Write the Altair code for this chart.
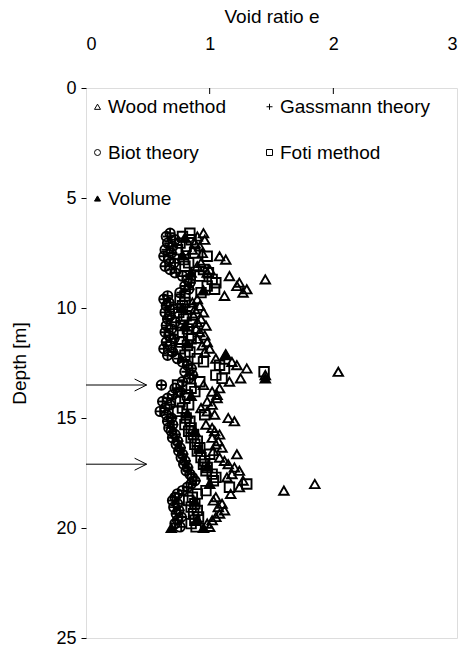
import altair as alt
import pandas as pd

depth = [6.6, 6.75, 6.9, 7.05, 7.2, 7.35, 7.5, 7.65, 7.8, 7.95,
         8.1, 8.25, 8.4, 8.55, 8.7, 8.85, 9.0, 9.15, 9.3, 9.45,
         9.6, 9.75, 9.9, 10.05, 10.2, 10.35, 10.5, 10.65, 10.8, 10.95,
         11.1, 11.25, 11.4, 11.55, 11.7, 11.85, 12.0, 12.15, 12.3, 12.45,
         12.6, 12.75, 12.9, 13.05, 13.2, 13.35, 13.5, 13.65, 13.8, 13.95,
         14.1, 14.25, 14.4, 14.55, 14.7, 14.85, 15.0, 15.15, 15.3, 15.45,
         15.6, 15.75, 15.9, 16.05, 16.2, 16.35, 16.5, 16.65, 16.8, 16.95,
         17.1, 17.25, 17.4, 17.55, 17.7, 17.85, 18.0, 18.15, 18.3, 18.45,
         18.6, 18.75, 18.9, 19.05, 19.2, 19.35, 19.5, 19.65, 19.8, 19.95]

biot = [0.68, 0.65, 0.72, 0.66, 0.70, 0.64, 0.69, 0.63, 0.67, 0.71,
        0.64, 0.68, 0.72, 0.78, 0.82, 0.84, 0.80, 0.83, 0.76, 0.66,
        0.63, 0.67, 0.65, 0.70, 0.64, 0.68, 0.66, 0.72, 0.65, 0.69,
        0.64, 0.67, 0.71, 0.65, 0.68, 0.63, 0.70, 0.66, 0.74, 0.78,
        0.82, 0.85, 0.80, 0.86, 0.83, 0.78, 0.61, 0.72, 0.76, 0.70,
        0.66, 0.62, 0.68, 0.64, 0.60, 0.65, 0.69, 0.66, 0.70, 0.67,
        0.69, 0.72, 0.70, 0.74, 0.73, 0.76, 0.75, 0.78, 0.77, 0.80,
        0.79, 0.82, 0.81, 0.84, 0.86, 0.88, 0.85, 0.82, 0.78, 0.74,
        0.72, 0.70, 0.74, 0.71, 0.75, 0.73, 0.77, 0.74, 0.72, 0.76]

gassmann = [0.68, 0.66, 0.72, 0.67, 0.70, 0.65, 0.70, 0.63, 0.68, 0.72,
            0.64, 0.69, 0.73, 0.78, 0.83, 0.85, 0.80, 0.84, 0.77, 0.66,
            0.63, 0.68, 0.65, 0.71, 0.64, 0.69, 0.66, 0.73, 0.65, 0.70,
            0.64, 0.68, 0.72, 0.65, 0.69, 0.63, 0.71, 0.66, 0.75, 0.79,
            0.83, 0.86, 0.81, 0.87, 0.84, 0.79, 0.61, 0.73, 0.77, 0.71,
            0.66, 0.62, 0.69, 0.64, 0.60, 0.66, 0.70, 0.66, 0.71, 0.68,
            0.70, 0.73, 0.70, 0.75, 0.74, 0.77, 0.76, 0.79, 0.78, 0.81,
            0.80, 0.83, 0.82, 0.85, 0.87, 0.89, 0.86, 0.83, 0.79, 0.75,
            0.72, 0.70, 0.75, 0.71, 0.76, 0.73, 0.78, 0.74, 0.72, 0.77]

foti = [0.84, 0.78, 0.85, 0.76, 0.81, 0.74, 0.88, 0.98, 0.79, 0.83,
        0.80, 0.95, 0.99, 0.92, 1.02, 1.05, 0.98, 1.04, 0.93, 0.80,
        0.76, 0.80, 0.78, 0.84, 0.75, 0.81, 0.79, 0.86, 0.77, 0.82,
        0.78, 0.83, 0.85, 0.77, 0.82, 0.76, 0.84, 0.80, 0.90, 0.95,
        1.08, 1.12, 1.44, 1.05, 1.10, 0.92, 0.74, 0.85, 0.88, 0.82,
        0.80, 0.76, 0.83, 0.78, 0.74, 0.96, 0.81, 0.84, 0.80, 0.85,
        0.83, 0.87, 0.85, 0.90, 0.88, 0.92, 0.90, 1.00, 0.93, 0.96,
        0.95, 0.98, 0.97, 1.02, 1.05, 1.03, 1.30, 1.16, 0.97, 0.90,
        0.86, 0.83, 0.88, 0.85, 0.90, 0.87, 0.91, 0.88, 0.85, 0.89]

wood = [0.95, 0.90, 0.96, 0.88, 0.92, 0.86, 0.94, 1.08, 1.13, 0.93,
        0.90, 1.00, 0.98, 1.16, 1.45, 1.24, 1.22, 1.30, 1.27, 1.12,
        0.90, 0.86, 0.92, 0.88, 0.95, 0.87, 0.93, 0.90, 0.97, 0.89,
        0.92, 0.96, 0.90, 0.98, 0.94, 1.00, 0.96, 1.13, 1.05, 1.18,
        1.22, 1.30, 2.04, 1.45, 1.25, 1.16, 0.95, 1.08, 1.02, 1.06,
        1.06, 0.98, 1.02, 0.93, 0.98, 1.04, 1.15, 1.20, 0.97, 1.02,
        1.04, 1.08, 1.02, 1.07, 1.05, 1.10, 1.03, 1.22, 1.08, 1.12,
        1.15, 1.20, 1.24, 1.18, 1.14, 1.27, 1.85, 1.24, 1.60, 1.17,
        1.05, 1.03, 1.10, 1.07, 1.12, 1.08, 1.05, 1.02, 0.98, 1.00]

vol_depth = [6.8, 7.6, 8.4, 9.2, 10.0, 10.8, 11.6, 12.1, 13.2, 14.0,
             14.8, 15.6, 16.4, 17.2, 18.0, 18.8, 19.6, 20.0, 20.0]
vol_e = [0.80, 0.78, 0.85, 0.95, 0.78, 0.80, 0.82, 1.13, 1.45, 0.85,
         0.82, 0.88, 0.92, 0.98, 1.00, 0.88, 0.90, 0.69, 0.95]

arrow_depth = [13.5, 17.1]
arrow_start = [0.0, 0.0]
arrow_end = [0.49, 0.49]

# legend order is column-major (3 rows x 2 columns)
series_names = ["Wood method", "Biot theory", "Volume", "Gassmann theory", "Foti method"]
series_shapes = ["triangle-up", "circle", "triangle-up", "M-1,0L1,0M0,-1L0,1", "square"]
series_fills = ["transparent", "transparent", "black", "transparent", "transparent"]
series_strokes = ["black", "black", "black", "black", "black"]
x_ticks = [0, 1, 2, 3]
y_ticks = [0, 5, 10, 15, 20, 25]
inner_ticks = [1, 2]

rows = []
for name, vals in [("Wood method", wood), ("Foti method", foti),
                   ("Biot theory", biot), ("Gassmann theory", gassmann)]:
    for d, e in zip(depth, vals):
        rows.append({"series": name, "depth": d, "e": e})
for d, e in zip(vol_depth, vol_e):
    rows.append({"series": "Volume", "depth": d, "e": e})
df = pd.DataFrame(rows)

arrows = pd.DataFrame({"depth": arrow_depth, "x0": arrow_start, "x1": arrow_end})
ticks_df = pd.DataFrame({"t": inner_ticks})

FONT = "Liberation Sans"

xscale = alt.Scale(domain=[0, 3], nice=False)
yscale = alt.Scale(domain=[0, 25], reverse=True, nice=False)

legend = alt.Legend(orient="none", legendX=2, legendY=9, columns=2, title=None,
                    labelFont=FONT, labelFontSize=19, labelColor="black",
                    symbolSize=36, symbolStrokeWidth=1, symbolOpacity=1,
                    rowPadding=26, columnPadding=34, labelOffset=1, padding=0)

points = alt.Chart(df).mark_point(size=90, strokeWidth=1.9, opacity=1).encode(
    x=alt.X("e:Q", scale=xscale,
            axis=alt.Axis(orient="top", values=x_ticks, format="d", title="Void ratio e", ticks=False,
                          domain=False, grid=False, labelPadding=35, titlePadding=9,
                          labelFontSize=18, titleFontSize=19, labelFont=FONT, titleFont=FONT,
                          labelColor="black", titleColor="black", titleFontWeight="normal")),
    y=alt.Y("depth:Q", scale=yscale,
            axis=alt.Axis(values=y_ticks, title="Depth [m]", tickSize=5, tickColor="black",
                          domain=False, grid=False, labelPadding=5, titlePadding=26,
                          labelFontSize=18, titleFontSize=19, labelFont=FONT, titleFont=FONT,
                          labelColor="black", titleColor="black", titleFontWeight="normal")),
    shape=alt.Shape("series:N", scale=alt.Scale(domain=series_names, range=series_shapes), legend=legend),
    fill=alt.Fill("series:N", scale=alt.Scale(domain=series_names, range=series_fills), legend=legend),
    stroke=alt.Stroke("series:N", scale=alt.Scale(domain=series_names, range=series_strokes), legend=legend),
)

arrow_lines = alt.Chart(arrows).mark_rule(color="black", strokeWidth=1).encode(
    x=alt.X("x0:Q", scale=xscale), x2="x1:Q", y=alt.Y("depth:Q", scale=yscale))

arrow_heads = alt.Chart(arrows).mark_point(shape="M-2,-1L0,0L-2,1", size=144, stroke="black",
                                           strokeWidth=1, filled=False, opacity=1).encode(
    x=alt.X("x1:Q", scale=xscale), y=alt.Y("depth:Q", scale=yscale))

top_ticks = alt.Chart(ticks_df).mark_rule(color="black", strokeWidth=1).encode(
    x=alt.X("t:Q", scale=xscale), y=alt.value(0), y2=alt.value(6))

chart = alt.layer(points, arrow_lines, arrow_heads, top_ticks).properties(
    width=371, height=550,
    autosize=alt.AutoSizeParams(type="none"),
    padding={"left": 86, "top": 88, "right": 5, "bottom": 12},
    background="white",
).configure_view(stroke="black", strokeWidth=1).configure(font=FONT)

chart.save("out.html", embed_options={"renderer": "svg", "actions": False})
